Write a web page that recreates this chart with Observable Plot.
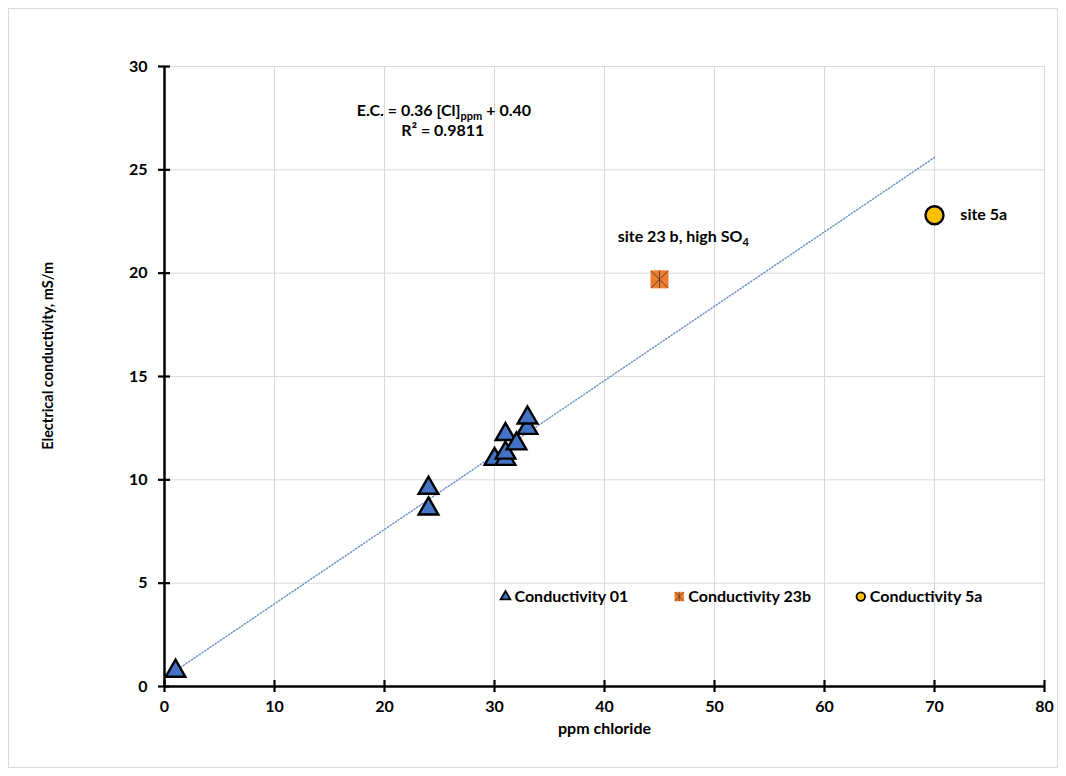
<!DOCTYPE html>
<html>
<head>
<meta charset="utf-8">
<script src="https://cdn.jsdelivr.net/npm/d3@7"></script>
<script src="https://cdn.jsdelivr.net/npm/@observablehq/plot@0.6"></script>
<style>
  html, body { margin: 0; padding: 0; background: #fff; }
  #wrap { position: relative; width: 1066px; height: 776px; }
  #border { position: absolute; left: 8px; top: 8px; width: 1050px; height: 760px; border: 1px solid #d9d9d9; box-sizing: border-box; pointer-events: none; }
  svg { font-family: Lato, "Open Sans", sans-serif; font-weight: 700; }
</style>
</head>
<body>
<div id="wrap"><div id="border"></div></div>
<script>
// Conductivity 01 samples
const chloride01 = [1, 24, 24, 30, 31, 31, 31, 32, 33, 33];
const conductivity01 = [0.75, 8.6, 9.6, 11.0, 11.0, 11.3, 12.2, 11.75, 12.5, 13.0];
// Conductivity 23b (high sulfate site)
const chloride23b = [45];
const conductivity23b = [19.7];
// Conductivity 5a
const chloride5a = [70];
const conductivity5a = [22.8];

// Linear fit stated in the annotation
const fitSlope = 0.36;
const fitIntercept = 0.40;
const fitR2 = 0.9811;

// Axis ticks
const xTicks = [0, 10, 20, 30, 40, 50, 60, 70, 80];
const yTicks = [0, 5, 10, 15, 20, 25, 30];

// Legend entries
const legendNames = ["Conductivity 01", "Conductivity 23b", "Conductivity 5a"];
const legendAt = [31.0, 46.8, 63.3];
const legendY = 4.35;

const blue = "#4472C4", orange = "#ED7D31", gold = "#FFC000";

// square "star" marker: corner-to-corner cross plus a vertical stroke
const starCross = {
  draw(context, size) {
    const h = Math.sqrt(size) / 2;
    context.moveTo(-h, -h); context.lineTo(h, h);
    context.moveTo(-h, h); context.lineTo(h, -h);
    context.moveTo(0, -h); context.lineTo(0, h);
  }
};

const s01 = chloride01.map((x, i) => ({x, y: conductivity01[i]}));
const s23b = chloride23b.map((x, i) => ({x, y: conductivity23b[i]}));
const s5a = chloride5a.map((x, i) => ({x, y: conductivity5a[i]}));

const allX = [...chloride01, ...chloride23b, ...chloride5a];
const fitLine = d3.extent(allX).map(x => ({x, y: fitSlope * x + fitIntercept}));

const legend = legendNames.map((name, i) => ({name, x: legendAt[i], y: legendY}));

const chart = Plot.plot({
  width: 1066,
  height: 776,
  marginLeft: 164,
  marginRight: 22,
  marginTop: 66,
  marginBottom: 90,
  style: {fontFamily: "Lato, 'Open Sans', sans-serif", fontWeight: 700, fontSize: "16px", color: "#000", background: "transparent"},
  x: {domain: [0, 80]},
  y: {domain: [0, 30]},
  marks: [
    Plot.gridX(xTicks, {stroke: "#d9d9d9", strokeOpacity: 1, strokeWidth: 1}),
    Plot.gridY(yTicks, {stroke: "#d9d9d9", strokeOpacity: 1, strokeWidth: 1}),
    Plot.axisX(xTicks, {tickSize: 0, tickPadding: 14, fontSize: 16, fontWeight: 700, label: null}),
    Plot.axisY(yTicks, {tickSize: 0, tickPadding: 17, fontSize: 16, fontWeight: 700, label: null}),
    // crossing tick marks
    Plot.ruleX(xTicks, {x: d => d, y1: 0, y2: 0, insetTop: -6, insetBottom: -6, stroke: "#000", strokeWidth: 2.2}),
    Plot.ruleY(yTicks, {y: d => d, x1: 0, x2: 0, insetLeft: -6, insetRight: -6, stroke: "#000", strokeWidth: 2.2}),
    Plot.ruleY([0], {stroke: "#000", strokeWidth: 2.5}),
    Plot.ruleX([0], {stroke: "#000", strokeWidth: 2.5}),
    // trend line
    Plot.line(fitLine, {x: "x", y: "y", stroke: "#6a8cc4", strokeWidth: 1.4, strokeDasharray: "1.2,2"}),
    // data
    Plot.dot(s01, {x: "x", y: "y", symbol: "triangle", r: 7.3, fill: blue, stroke: "#000", strokeWidth: 2.4}),
    Plot.dot(s23b, {x: "x", y: "y", symbol: "square", r: 9.6, fill: orange, stroke: orange, strokeWidth: 1}),
    Plot.dot(s23b, {x: "x", y: "y", symbol: starCross, r: 9.6, stroke: "#5a3a22", strokeWidth: 0.9}),
    Plot.dot(s5a, {x: "x", y: "y", symbol: "circle", r: 9, fill: gold, stroke: "#000", strokeWidth: 2.4}),
    // annotations
    Plot.text([`E.C. = ${fitSlope.toFixed(2)} [Cl]_{ppm} + ${fitIntercept.toFixed(2)}`], {x: 25.4, y: 27.87, fontSize: 16, fontWeight: 700, fill: "#000"}),
    Plot.text([`R² = ${fitR2}`], {x: 25.3, y: 26.88, fontSize: 16, fontWeight: 700, fill: "#000"}),
    Plot.text(["site 23 b, high SO_{4}"], {x: 41.2, y: 21.75, textAnchor: "start", fontSize: 16, fontWeight: 700, fill: "#000"}),
    Plot.text(["site 5a"], {x: 72.35, y: 22.83, textAnchor: "start", fontSize: 16, fontWeight: 700, fill: "#000"}),
    // axis titles
    Plot.text(["ppm chloride"], {frameAnchor: "bottom", dy: 47, fontSize: 16, fontWeight: 700, fill: "#000"}),
    Plot.text(["Electrical conductivity, mS/m"], {frameAnchor: "left", y: 16, rotate: -90, dx: -116, textAnchor: "middle", fontSize: 14.5, fontWeight: 700, fill: "#000"}),
    // legend
    Plot.dot(legend.slice(0, 1), {x: "x", y: "y", symbol: "triangle", r: 3.6, fill: blue, stroke: "#000", strokeWidth: 1.8}),
    Plot.dot(legend.slice(1, 2), {x: "x", y: "y", symbol: "square", r: 5, fill: orange, stroke: orange, strokeWidth: 0.5}),
    Plot.dot(legend.slice(1, 2), {x: "x", y: "y", symbol: starCross, r: 5, stroke: "#5a3a22", strokeWidth: 0.7}),
    Plot.dot(legend.slice(2, 3), {x: "x", y: "y", symbol: "circle", r: 4.3, fill: gold, stroke: "#000", strokeWidth: 1.8}),
    Plot.text(legend, {x: "x", y: "y", text: "name", dx: 9, textAnchor: "start", fontSize: 16, fontWeight: 700, fill: "#000"})
  ]
});

// turn "_{...}" into subscripts
d3.select(chart).selectAll("text").each(function () {
  const el = this;
  const content = el.textContent;
  if (!/_\{.+?\}/.test(content) || el.querySelector("tspan")) return;
  const parts = content.split(/(_\{.+?\})/);
  el.textContent = "";
  let shifted = false;
  parts.forEach(part => {
    if (!part) return;
    const t = document.createElementNS("http://www.w3.org/2000/svg", "tspan");
    const m = part.match(/^_\{(.+?)\}$/);
    if (m) {
      t.textContent = m[1];
      t.setAttribute("font-size", "11");
      t.setAttribute("dy", "4");
      shifted = true;
    } else {
      t.textContent = part;
      if (shifted) { t.setAttribute("dy", "-4"); shifted = false; }
    }
    el.appendChild(t);
  });
});

document.getElementById("wrap").appendChild(chart);
</script>
</body>
</html>
